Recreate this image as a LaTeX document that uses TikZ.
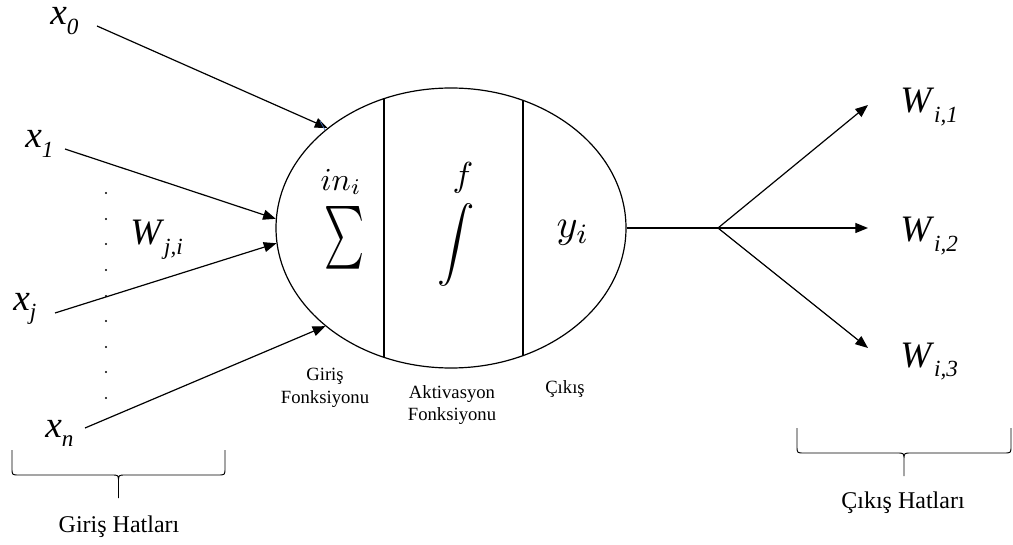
\documentclass[tikz,border=0pt]{standalone}
\usepackage{fontspec}
\setmainfont{Liberation Serif}
\usetikzlibrary{positioning,arrows.meta,shapes.geometric}
\definecolor{tickblue}{HTML}{4472C4}
\newcommand{\ivar}[2]{\textit{#1}\raisebox{-0.25em}{\scalebox{0.62}{\textit{#2}}}}
\newcommand{\hatbrace}[3]{%
  \draw[brace] (#1,#3) -- (#1,#3+18) .. controls (#1,#3+25) .. (#1+7,#3+25)
    -- ({(#1+#2)/2-7},#3+25) .. controls ({(#1+#2)/2},#3+25) .. ({(#1+#2)/2},#3+32)
    -- ({(#1+#2)/2},#3+48)
    ({(#1+#2)/2},#3+32) .. controls ({(#1+#2)/2},#3+25) .. ({(#1+#2)/2+7},#3+25)
    -- (#2-7,#3+25) .. controls (#2,#3+25) .. (#2,#3+18) -- (#2,#3);}
\tikzset{
  neuron/.style={draw, ellipse, line width=0.9pt, minimum width=262.5pt,
                 minimum height=210pt, inner sep=0pt},
  wire/.style  ={line width=0.9pt},
  arr/.style   ={-{Triangle[length=9.5pt,width=7.5pt]}, line width=0.9pt},
  var/.style   ={font=\fontsize{28}{30}\selectfont, inner sep=0pt,
                 text height=0.5em, text depth=0.3em, anchor=base west},
  sym/.style   ={inner sep=0pt},
  partlbl/.style={font=\fontsize{14}{17}\selectfont, align=center,
                 inner sep=0pt},
  grp/.style   ={font=\fontsize{18}{20}\selectfont, inner sep=0pt,
                 anchor=base},
  brace/.style ={line width=0.7pt}
}

\begin{document}
\begin{tikzpicture}[x=0.75pt, y=-0.75pt]
\useasboundingbox (0,0) rectangle (1013,545);

% the neuron and its three parts
\node[neuron] (neuron) at (451,228) {};
\begin{scope}
  \clip (451,228) ellipse [x radius=175, y radius=140];
  \draw[wire] (384,80) -- (384,380);
  \draw[wire] (523,80) -- (523,380);
\end{scope}
\node[sym] (insub)  at (341,182) {\scalebox{2.4}{$in_i$}};
\node[sym] (sumsym) at (345,238) {\scalebox{2.85}[4.7]{$\textstyle\sum$}};
\node[sym] (fsym)   at (463,178) {\scalebox{2.6}{$f$}};
\node[sym] (intsym) at (456,245) {\scalebox{2.8}{$\displaystyle\int$}};
\node[sym] (ysym)   at (573,233) {\scalebox{3.0}{$y_i$}};

\node[partlbl] (lgiris) at (325,388) {Giriş\\Fonksiyonu};
\node[partlbl] (lakt)   at (452,405) {Aktivasyon\\Fonksiyonu};
\node[partlbl, anchor=base] (lcikis) at (565,393) {Çıkış};

% input lines
\node[var] (x0)  at (50,25)   {\ivar{x}{0}};
\node[var] (x1)  at (25,148)  {\ivar{x}{1}};
\node[var] (xj)  at (13,310)  {\ivar{x}{j}};
\node[var] (xn)  at (45,437)  {\ivar{x}{n}};
\node[var] (wji) at (130,245) {\ivar{W}{j,i}};
\foreach \yy in {193,219,244,270,296,321,347,372,398}
  \fill (106,\yy) circle (0.9pt);

\coordinate (s0) at (97,26);
\coordinate (s1) at (65,149);
\coordinate (sj) at (55,313);
\coordinate (sn) at (85,428);
\draw[arr] (s0) -- (neuron.141.6);
\draw[arr] (s1) -- (neuron.177.4);
\draw[arr] (sj) -- (neuron.185);
\draw[arr] (sn) -- (neuron.218.8);
\draw[tickblue, line width=0.5pt] (320,121) -- (325,130);

% output lines
\coordinate (split) at (718,228);
\coordinate (o1) at (868,105);
\coordinate (o2) at (868,228);
\coordinate (o3) at (868,348);
\draw[wire] (neuron.east) -- (split);
\foreach \o in {o1,o2,o3}
  \draw[arr] (split) -- (\o);
\node[var] (wi1) at (900,113) {\ivar{W}{i,1}};
\node[var] (wi2) at (900,242) {\ivar{W}{i,2}};
\node[var] (wi3) at (900,367) {\ivar{W}{i,3}};

% groups
\hatbrace{12}{225}{450}
\hatbrace{797}{1011}{428}
\node[grp] (lgirhat) at (119,532) {Giriş Hatları};
\node[grp] (lcikhat) at (903,508) {Çıkış Hatları};
\end{tikzpicture}
\end{document}
